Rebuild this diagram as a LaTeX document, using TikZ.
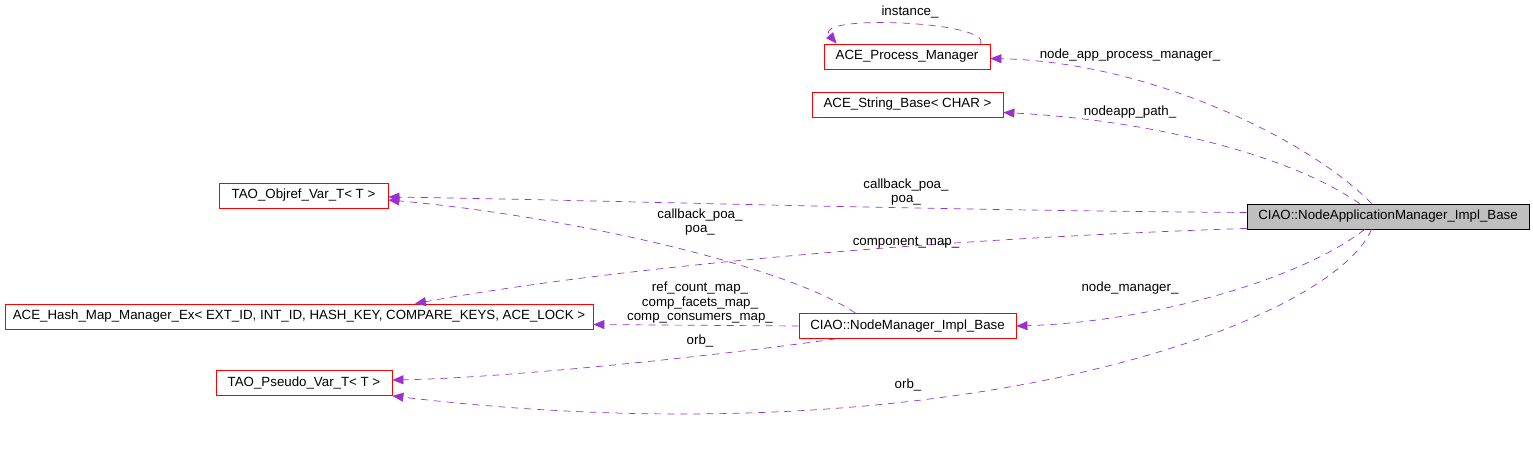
\documentclass[tikz,border=0pt]{standalone}
\usepackage{fontspec}
\setmainfont{Liberation Sans}
\usetikzlibrary{arrows.meta}
\definecolor{edgepurple}{RGB}{153,50,204}
\definecolor{boxgray}{RGB}{191,191,191}

\begin{document}
\begin{tikzpicture}[
    x=1pt, y=-1pt,
    every node/.style={font=\fontsize{13.3}{14.5}\selectfont},
    cls/.style={draw=red, line width=0.8pt, minimum height=25pt, inner xsep=0pt},
    focus/.style={draw=black, fill=boxgray, line width=0.8pt, minimum height=25pt, inner xsep=0pt},
    dep/.style={edgepurple, dashed, dash pattern=on 7pt off 6pt, line width=0.7pt,
        -{Triangle[length=11pt, width=9pt]}},
    lbl/.style={align=center, inner sep=0pt},
]
\useasboundingbox (0,0) rectangle (1533,448);

% Klassen
\node[cls, minimum width=166pt] (apm) at (907,56.5) {ACE\_Process\_Manager};
\node[cls, minimum width=191pt] (asb) at (907.5,104.5) {ACE\_String\_Base< CHAR >};
\node[cls, minimum width=169pt] (objref) at (303.5,195.5) {TAO\_Objref\_Var\_T< T >};
\node[focus, minimum width=282pt] (napm) at (1388,216.5) {CIAO::NodeApplicationManager\_Impl\_Base};
\node[cls, minimum width=588pt] (hashmap) at (299,316.5) {ACE\_Hash\_Map\_Manager\_Ex< EXT\_ID, INT\_ID, HASH\_KEY, COMPARE\_KEYS, ACE\_LOCK >};
\node[cls, minimum width=217pt] (nm) at (907.5,326) {CIAO::NodeManager\_Impl\_Base};
\node[cls, minimum width=176pt] (pseudo) at (304,383) {TAO\_Pseudo\_Var\_T< T >};

% Beziehungen von NodeApplicationManager
\draw[dep] ([xshift=-10pt]apm.north east) .. controls +(12,-22) and +(-25,-30) .. ([xshift=13pt]apm.north west);
\node[lbl] (l_inst) at (910,12) {instance\_};

\draw[dep] ([xshift=125pt]napm.north west) .. controls (1310,140) and (1150,62) .. ([yshift=-2pt]apm.east);
\node[lbl] (l_npm) at (1130,55) {node\_app\_process\_manager\_};

\draw[dep] ([xshift=113pt]napm.north west) .. controls (1290,155) and (1150,120) .. ([yshift=-8pt]asb.east);
\node[lbl] (l_path) at (1130,112) {nodeapp\_path\_};

\draw[dep] ([yshift=4pt]napm.west) .. controls (900,210) and (600,200) .. ([yshift=-1.5pt]objref.east);
\node[lbl] (l_poa1) at (906,192) {callback\_poa\_\\poa\_};

\draw[dep] ([yshift=1pt]napm.south west) .. controls (900,240) and (600,270) .. ([xshift=116pt]hashmap.north);
\node[lbl] (l_comp) at (906,243) {component\_map\_};

\draw[dep] ([xshift=118pt]napm.south west) .. controls (1300,280) and (1150,322) .. (nm.east);
\node[lbl] (l_nm) at (1130,288) {node\_manager\_};

\draw[dep] ([xshift=125pt]napm.south west) .. controls (1330,325) and (950,462) .. (pseudo.south east);
\node[lbl] (l_orb1) at (908,385) {orb\_};

% Beziehungen von NodeManager
\draw[dep] ([xshift=-52pt]nm.north) .. controls (780,262) and (550,214) .. ([yshift=-4.5pt]objref.east);
\node[lbl] (l_poa2) at (700,222) {callback\_poa\_\\poa\_};

\draw[dep] (nm.west) -- ([yshift=-8pt]hashmap.east);
\node[lbl] (l_maps) at (700,303) {ref\_count\_map\_\\comp\_facets\_map\_\\comp\_consumers\_map\_};

\draw[dep] ([xshift=-72pt]nm.south) .. controls (700,358) and (500,378) .. ([yshift=3pt]pseudo.east);
\node[lbl] (l_orb2) at (700,341) {orb\_};

\end{tikzpicture}
\end{document}
